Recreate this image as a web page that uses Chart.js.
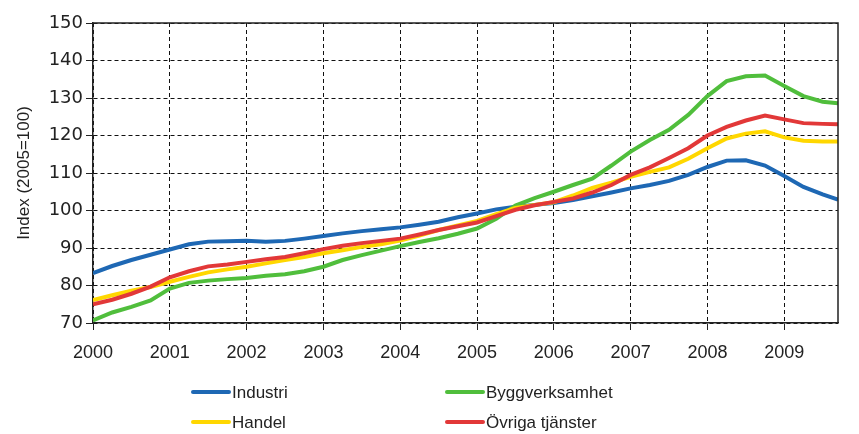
<!DOCTYPE html>
<html>
<head>
<meta charset="utf-8">
<script src="https://cdn.jsdelivr.net/npm/chart.js@4"></script>
<style>
  html, body { margin: 0; padding: 0; background: #fff; }
</style>
</head>
<body>
<canvas id="indexChart" width="859" height="434"></canvas>
<script>
// kvartalsvärden, index 2005=100
const periods = [
  2000.00, 2000.25, 2000.50, 2000.75,
  2001.00, 2001.25, 2001.50, 2001.75,
  2002.00, 2002.25, 2002.50, 2002.75,
  2003.00, 2003.25, 2003.50, 2003.75,
  2004.00, 2004.25, 2004.50, 2004.75,
  2005.00, 2005.25, 2005.50, 2005.75,
  2006.00, 2006.25, 2006.50, 2006.75,
  2007.00, 2007.25, 2007.50, 2007.75,
  2008.00, 2008.25, 2008.50, 2008.75,
  2009.00, 2009.25, 2009.50, 2009.70
];

const industri = [
  83.3, 85.2, 86.8, 88.2,
  89.6, 91.0, 91.7, 91.8,
  91.9, 91.7, 91.9, 92.5,
  93.2, 93.9, 94.5, 95.0,
  95.5, 96.2, 97.0, 98.2,
  99.2, 100.3, 101.0, 101.5,
  102.0, 102.8, 103.8, 104.8,
  105.9, 106.8, 107.9, 109.5,
  111.6, 113.3, 113.4, 112.0,
  109.2, 106.3, 104.3, 102.9
];

const byggverksamhet = [
  70.7, 72.8, 74.3, 76.0,
  79.2, 80.7, 81.3, 81.7,
  82.0, 82.6, 83.0, 83.8,
  85.0, 86.8, 88.1, 89.3,
  90.5, 91.6, 92.6, 93.8,
  95.2, 97.8, 101.3, 103.3,
  105.0, 106.8, 108.5, 112.0,
  115.7, 118.8, 121.5, 125.5,
  130.5, 134.5, 135.8, 136.0,
  133.2, 130.5, 129.0, 128.6
];

const handel = [
  76.1, 77.4, 78.6, 79.6,
  81.0, 82.3, 83.5, 84.3,
  85.0, 85.9, 86.8, 87.6,
  88.6, 89.4, 90.3, 91.0,
  92.0, 93.3, 94.8, 96.0,
  97.2, 99.0, 100.7, 101.5,
  102.2, 104.0, 106.0, 107.4,
  109.0, 110.3, 111.5, 113.8,
  116.6, 119.2, 120.5, 121.1,
  119.5, 118.6, 118.4, 118.4
];

const ovrigaTjanster = [
  75.0, 76.2, 77.8, 79.7,
  82.2, 83.8, 85.1, 85.6,
  86.3, 87.0, 87.6, 88.6,
  89.7, 90.6, 91.3, 91.9,
  92.5, 93.6, 94.8, 95.8,
  96.8, 98.5, 100.2, 101.4,
  102.3, 103.2, 104.8, 106.8,
  109.5, 111.5, 114.0, 116.6,
  120.0, 122.3, 124.0, 125.3,
  124.3, 123.3, 123.1, 123.0
];

const seriesNames = ['Industri', 'Byggverksamhet', 'Handel', 'Övriga tjänster'];
const seriesColors = ['rgb(30, 104, 180)', 'rgb(80, 190, 60)', 'rgb(255, 215, 0)', 'rgb(226, 56, 56)'];

const toPoints = (values) => values.map((v, i) => ({ x: periods[i], y: v }));

// ram runt ritytan + förklaring i två kolumner
const frameLegend = {
  id: 'frameLegend',
  afterDatasetsDraw(chart) {
    const a = chart.chartArea;
    const ctx = chart.ctx;
    ctx.save();
    ctx.strokeStyle = '#222';
    ctx.lineWidth = 1.5;
    ctx.beginPath();
    ctx.moveTo(a.left, a.top);
    ctx.lineTo(a.right, a.top);
    ctx.lineTo(a.right, a.bottom);
    ctx.stroke();
    ctx.restore();
  },
  afterDraw(chart) {
    const ctx = chart.ctx;
    const slots = [[193, 392], [447, 392], [193, 422], [447, 422]];
    ctx.save();
    ctx.font = '17px "Liberation Sans", Arial, sans-serif';
    ctx.textBaseline = 'middle';
    ctx.fillStyle = '#222';
    chart.data.datasets.forEach((ds, i) => {
      const [x, y] = slots[i];
      ctx.strokeStyle = ds.borderColor;
      ctx.lineWidth = 4;
      ctx.lineCap = 'round';
      ctx.beginPath();
      ctx.moveTo(x, y);
      ctx.lineTo(x + 36, y);
      ctx.stroke();
      ctx.fillText(ds.label, x + 39, y + 1);
    });
    ctx.restore();
  }
};

const ctx = document.getElementById('indexChart').getContext('2d');
new Chart(ctx, {
  type: 'line',
  data: {
    datasets: [
      { label: seriesNames[0], data: toPoints(industri), borderColor: seriesColors[0], order: 3 },
      { label: seriesNames[1], data: toPoints(byggverksamhet), borderColor: seriesColors[1], order: 2 },
      { label: seriesNames[2], data: toPoints(handel), borderColor: seriesColors[2], order: 1 },
      { label: seriesNames[3], data: toPoints(ovrigaTjanster), borderColor: seriesColors[3], order: 0 }
    ]
  },
  options: {
    responsive: false,
    animation: false,
    layout: { padding: { left: 0, top: 23, right: 21, bottom: 71 } },
    elements: {
      point: { radius: 0 },
      line: { borderWidth: 4, tension: 0, fill: false }
    },
    plugins: {
      legend: { display: false },
      tooltip: { enabled: false }
    },
    scales: {
      x: {
        type: 'linear',
        min: 2000,
        max: 2009.7,
        afterFit: (s) => { s.height = 40; },
        ticks: {
          stepSize: 1,
          includeBounds: false,
          autoSkip: false,
          maxRotation: 0,
          padding: 12,
          color: '#222',
          font: { family: '"Liberation Sans", Arial, sans-serif', size: 18 },
          callback: (v) => String(v)
        },
        grid: { color: '#111', lineWidth: 1, tickLength: 7, tickColor: '#222' },
        border: { color: '#222', width: 1.5, dash: [4, 3] }
      },
      y: {
        min: 70,
        max: 150,
        afterFit: (s) => { s.width = 93; },
        ticks: {
          stepSize: 10,
          padding: 3,
          color: '#222',
          font: { family: '"DejaVu Sans", sans-serif', size: 18 }
        },
        grid: { color: '#111', lineWidth: 1, tickLength: 7, tickColor: '#222' },
        border: { color: '#222', width: 1.5, dash: [4, 3] },
        title: {
          display: true,
          text: 'Index (2005=100)',
          color: '#222',
          font: { family: '"Liberation Sans", Arial, sans-serif', size: 17 },
          padding: { top: 14, bottom: 0 }
        }
      }
    }
  },
  plugins: [frameLegend]
});
</script>
</body>
</html>
